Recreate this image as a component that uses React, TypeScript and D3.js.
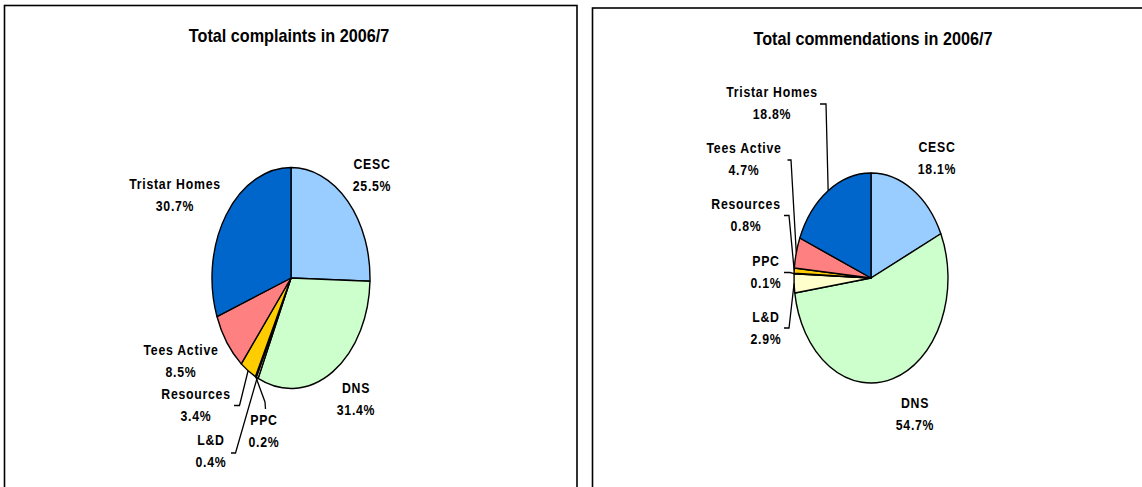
import React, { useEffect, useRef } from 'react';
import * as d3 from 'd3';

// slice order is the same in both charts (clockwise from 12 o'clock)
const categories = ['CESC', 'DNS', 'L&D', 'PPC', 'Resources', 'Tees Active', 'Tristar Homes'];
const complaints = [25.5, 31.4, 0.4, 0.2, 3.4, 8.5, 30.7];
const commendations = [18.1, 54.7, 2.9, 0.1, 0.8, 4.7, 18.8];
const sliceColors = ['#99CCFF', '#CCFFCC', '#FFFFCC', '#993366', '#FFCC00', '#FF8080', '#0066CC'];

// label placement per chart: [cx, baseline] of the name, optional leader tick
const leftLayout = {
  'CESC': { x: 372, y: 169 },
  'DNS': { x: 356, y: 393 },
  'L&D': { x: 211, y: 445, tick: [[231, 453], [235.5, 453]] },
  'PPC': { x: 264, y: 425, tick: [[265.5, 409], [265, 402]] },
  'Resources': { x: 196, y: 399, tick: [[234, 405.5], [239.5, 405.5]] },
  'Tees Active': { x: 181, y: 355 },
  'Tristar Homes': { x: 175, y: 189 },
};
const rightLayout = {
  'CESC': { x: 937, y: 152 },
  'DNS': { x: 915, y: 408 },
  'L&D': { x: 766, y: 322, tick: [[784, 328], [789, 328]] },
  'PPC': { x: 766, y: 266, tick: [[784, 272.5], [790, 272.5]] },
  'Resources': { x: 746, y: 209, tick: [[784, 215.5], [789, 215.5]] },
  'Tees Active': { x: 744, y: 153, tick: [[787.5, 160], [791, 160]] },
  'Tristar Homes': { x: 772, y: 97, tick: [[820, 104], [826, 104]] },
};

const charts = [
  { title: 'Total complaints in 2006/7', values: complaints, layout: leftLayout,
    box: [4.5, 5.5, 572.5], titleX: 289, titleY: 42, cx: 291, cy: 278, rx: 79, ry: 110.5 },
  { title: 'Total commendations in 2006/7', values: commendations, layout: rightLayout,
    box: [592.5, 8, 580], titleX: 873, titleY: 45, cx: 871, cy: 278, rx: 77, ry: 105 },
];

const font = "'Liberation Sans', Arial, sans-serif";

const App = () => {
  const svgRef = useRef<SVGSVGElement>(null);

  useEffect(() => {
    const svg = d3.select(svgRef.current);
    svg.selectAll('*').remove();

    const pie = d3.pie<number>().sort(null).value(d => d);

    charts.forEach(c => {
      const [bx, by, bw] = c.box;
      svg.append('rect')
        .attr('x', bx).attr('y', by)
        .attr('width', bw).attr('height', 520)
        .attr('fill', 'white')
        .attr('stroke', '#000')
        .attr('stroke-width', 1.6);
    });

    charts.forEach(c => {
      // narrow bold look: draw wider text and squeeze it horizontally
      svg.append('text')
        .attr('transform', `translate(${c.titleX},${c.titleY}) scale(0.9,1)`)
        .attr('text-anchor', 'middle')
        .style('font-family', font)
        .style('font-weight', 'bold')
        .style('font-size', '18px')
        .text(c.title);

      const arcs = pie(c.values);
      const arc = d3.arc<d3.PieArcDatum<number>>().innerRadius(0).outerRadius(c.rx);

      const g = svg.append('g')
        .attr('transform', `translate(${c.cx},${c.cy}) scale(1,${c.ry / c.rx})`);

      g.selectAll('path')
        .data(arcs)
        .enter()
        .append('path')
        .attr('d', arc)
        .attr('fill', (d, i) => sliceColors[i])
        .attr('stroke', '#000')
        .attr('stroke-width', 1.4)
        .attr('stroke-linejoin', 'round')
        .attr('vector-effect', 'non-scaling-stroke');

      // leader lines from the slice's edge to its label tick
      const line = d3.line();
      arcs.forEach((a, i) => {
        const lay = c.layout[categories[i]];
        if (!lay.tick) return;
        const mid = (a.startAngle + a.endAngle) / 2;
        const edge: [number, number] = [c.cx + c.rx * Math.sin(mid), c.cy - c.ry * Math.cos(mid)];
        svg.append('path')
          .attr('d', line([lay.tick[0], lay.tick[1], edge]))
          .attr('fill', 'none')
          .attr('stroke', '#000')
          .attr('stroke-width', 1.3);
      });

      arcs.forEach((a, i) => {
        const lay = c.layout[categories[i]];
        const t = svg.append('text')
          .attr('transform', `translate(${lay.x},0) scale(0.82,1)`)
          .attr('text-anchor', 'middle')
          .style('font-family', font)
          .style('font-weight', 'bold')
          .style('font-size', '15px')
          .style('letter-spacing', '0.9px');
        t.append('tspan').attr('x', 0).attr('y', lay.y).text(categories[i]);
        t.append('tspan').attr('x', 0).attr('y', lay.y + 22).text(`${c.values[i].toFixed(1)}%`);
      });
    });
  }, []);

  return (
    <div style={{ position: 'absolute', left: 0, top: 0 }}>
      <svg ref={svgRef} width={1142} height={487} style={{ display: 'block' }} />
    </div>
  );
};

export default App;
